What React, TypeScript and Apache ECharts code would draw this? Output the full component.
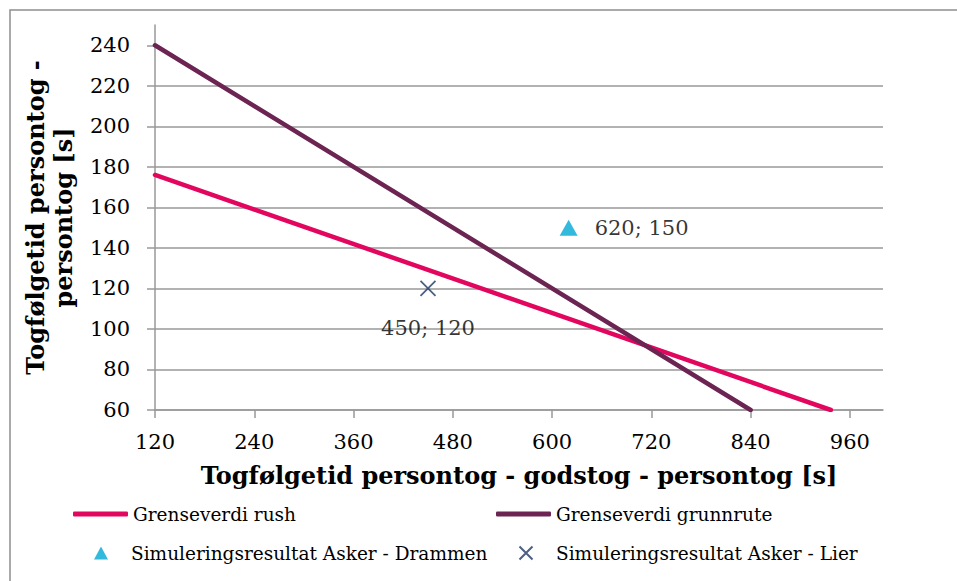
import React, { useEffect, useRef } from 'react';
import * as echarts from 'echarts';

const xTicks = [120, 240, 360, 480, 600, 720, 840, 960];
const yTicks = [60, 80, 100, 120, 140, 160, 180, 200, 220, 240];
const rushLine = [[120, 176], [937, 60]];
const grunnruteLine = [[120, 240], [840, 60]];
const askerDrammen = [[620, 150]];
const askerLier = [[450, 120]];
const seriesNames = [
  'Grenseverdi rush',
  'Grenseverdi grunnrute',
  'Simuleringsresultat Asker - Drammen',
  'Simuleringsresultat Asker - Lier',
];
const xTitle = 'Togfølgetid persontog - godstog - persontog [s]';
const yTitle = 'Togfølgetid persontog -\npersontog [s]';

const COLORS = ['#E2065E', '#6C2452', '#00A8D2', '#1F3864'];
const SERIF = '"DejaVu Serif", "Liberation Serif", serif';

export default function App() {
  const ref = useRef<HTMLDivElement>(null);
  useEffect(() => {
    if (!ref.current) return;
    const chart = echarts.init(ref.current, null, { renderer: 'svg' });
    const mkLegend = (name: string, left: number, top: number, line: boolean) => ({
      data: [name],
      left: line ? left : left + 21,
      top,
      padding: 0,
      itemWidth: line ? 55 : 14,
      itemHeight: line ? 5 : 13,
      icon: line ? 'roundRect' : undefined,
      textStyle: {
        fontFamily: SERIF,
        fontSize: 18.5,
        color: '#000',
        lineHeight: 22,
        padding: line ? 0 : [0, 0, 0, 18],
      },
      selectedMode: false,
    });
    chart.setOption({
      animation: false,
      backgroundColor: '#fff',
      graphic: [
        {
          type: 'rect',
          shape: { x: 10, y: 10, width: 1200, height: 1000 },
          style: { fill: 'none', stroke: '#8e8e8e', lineWidth: 1.5 },
          silent: true,
        },
      ],
      grid: { left: 155, right: 74, top: 25, bottom: 171 },
      legend: [
        mkLegend(seriesNames[0], 73, 503, true),
        mkLegend(seriesNames[1], 496, 503, true),
        mkLegend(seriesNames[2], 73, 542, false),
        mkLegend(seriesNames[3], 496, 542, false),
      ],
      xAxis: {
        type: 'value',
        min: 120,
        max: 1000,
        interval: 120,
        name: xTitle,
        nameLocation: 'middle',
        nameGap: 53,
        nameTextStyle: { fontFamily: SERIF, fontSize: 24, fontWeight: 'bold', color: '#000' },
        axisLine: { show: true, lineStyle: { color: '#999', width: 1.5 } },
        axisTick: { show: true, length: 8, lineStyle: { color: '#999', width: 1.5 }, customValues: xTicks },
        axisLabel: {
          fontFamily: SERIF,
          fontSize: 21,
          color: '#000',
          margin: 21,
          customValues: xTicks,
        },
        splitLine: { show: false },
      },
      yAxis: {
        type: 'value',
        min: 60,
        max: 250,
        interval: 20,
        name: yTitle,
        nameLocation: 'middle',
        nameRotate: 90,
        nameGap: 78,
        nameTextStyle: { fontFamily: SERIF, fontSize: 24, fontWeight: 'bold', color: '#000', lineHeight: 28 },
        axisLine: { show: true, lineStyle: { color: '#999', width: 1.5 } },
        axisTick: { show: true, length: 8, lineStyle: { color: '#999', width: 1.5 }, customValues: yTicks },
        axisLabel: {
          fontFamily: SERIF,
          fontSize: 21,
          color: '#000',
          margin: 25,
          customValues: yTicks,
        },
        splitLine: { show: true, showMaxLine: false, lineStyle: { color: '#999', width: 1.5 } },
      },
      series: [
        {
          name: seriesNames[0],
          type: 'line',
          data: rushLine,
          showSymbol: false,
          symbol: 'none',
          color: COLORS[0],
          lineStyle: { color: COLORS[0], width: 4.5, cap: 'round' },
        },
        {
          name: seriesNames[1],
          type: 'line',
          data: grunnruteLine,
          showSymbol: false,
          symbol: 'none',
          color: COLORS[1],
          lineStyle: { color: COLORS[1], width: 4.5, cap: 'round' },
        },
        {
          name: seriesNames[2],
          type: 'scatter',
          data: askerDrammen,
          symbol: 'triangle',
          symbolSize: [18, 16],
          itemStyle: { color: COLORS[2] },
          label: {
            show: true,
            position: 'right',
            distance: 17,
            formatter: (p: any) => `${p.value[0]}; ${p.value[1]}`,
            fontFamily: SERIF,
            fontSize: 21,
            color: '#000',
          },
        },
        {
          name: seriesNames[3],
          type: 'scatter',
          data: askerLier,
          symbol: 'path://M0,0L10,10M10,0L0,10',
          symbolSize: 15,
          itemStyle: { color: 'none', borderColor: COLORS[3], borderWidth: 1.8 },
          label: {
            show: true,
            position: 'bottom',
            distance: 19,
            formatter: (p: any) => `${p.value[0]}; ${p.value[1]}`,
            fontFamily: SERIF,
            fontSize: 21,
            color: '#000',
          },
        },
      ],
    });
    return () => chart.dispose();
  }, []);
  return (
    <div
      ref={ref}
      style={{ position: 'absolute', left: 0, top: 0, width: 957, height: 581 }}
    />
  );
}
